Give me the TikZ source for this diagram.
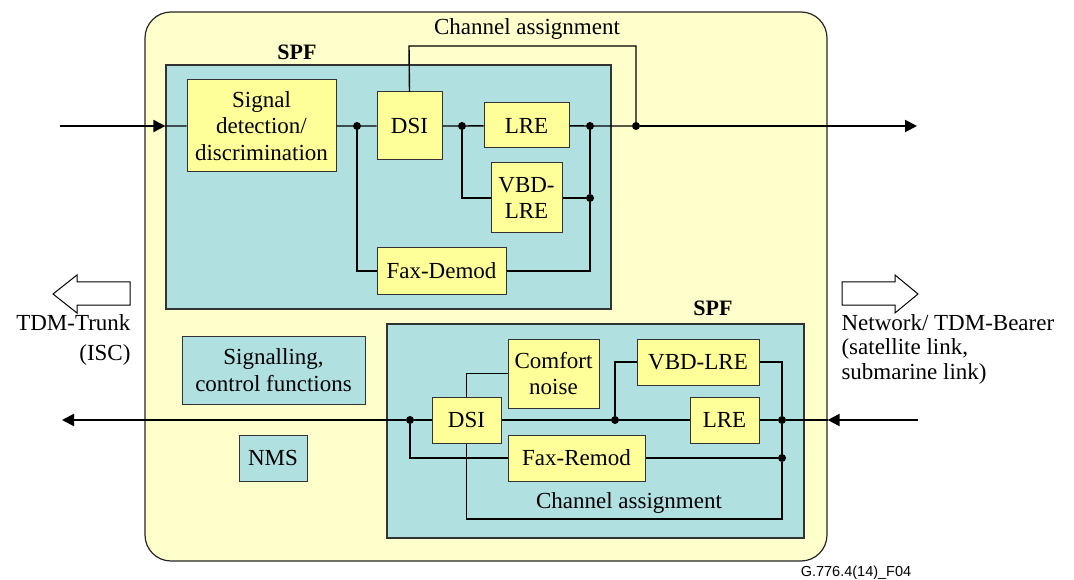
\documentclass[tikz,border=0pt]{standalone}
\usepackage{fontspec}
\setmainfont{Liberation Serif}
\setsansfont{Liberation Sans}
\usetikzlibrary{arrows.meta}
\definecolor{gwyellow}{HTML}{FFFFCC}
\definecolor{blkyellow}{HTML}{FFFF99}
\definecolor{spfteal}{HTML}{B0E0E0}
\tikzset{
  blk/.style={draw=black!80,fill=blkyellow,line width=1pt,inner sep=0pt,align=center},
  spf/.style={draw=black!80,fill=spfteal,line width=1.2pt,inner sep=0pt},
  ctl/.style={draw=black!80,fill=spfteal,line width=1pt,inner sep=0pt,align=center},
  wire/.style={line width=1.4pt},
  trunk/.style={line width=2pt,-{Triangle[length=12pt,width=12pt]}},
  hollow/.style={draw=black,fill=white,line width=1pt},
  jn/.style={circle,fill=black,inner sep=0pt,minimum size=8pt}
}
\begin{document}
\begin{tikzpicture}[x=1pt,y=-1pt,font=\rmfamily\fontsize{23}{26.5}\selectfont]
\useasboundingbox (0,0) rectangle (1074,580);
\node[draw=black!85,fill=gwyellow,line width=1.2pt,rounded corners=26pt,minimum width=682,minimum height=549] (gw) at (486,286.5) {};
% upper SPF
\node[spf,minimum width=445,minimum height=244] (spfA) at (388.5,187) {};
\node[font=\rmfamily\fontsize{22}{24}\bfseries\selectfont] at (297,52) {SPF};
\node[blk,minimum width=149,minimum height=92] (sig) at (261.5,126) {Signal\\detection/\\discrimination};
\node[blk,minimum width=65,minimum height=68] (dsiA) at (409.5,126) {DSI};
\node[blk,minimum width=85,minimum height=45] (lreA) at (526.5,125.5) {LRE};
\node[blk,minimum width=71,minimum height=70] (vbdA) at (526.5,198) {VBD-\\LRE};
\node[blk,minimum width=129,minimum height=46] (faxA) at (441.5,271) {Fax-Demod};
\node[jn] (j1) at (357,126) {};
\node[jn] (j2) at (462,126) {};
\node[jn] (j3) at (590,126) {};
\node[jn] (j4) at (590,198) {};
\node[jn] (j5) at (636,126) {};
\coordinate (inA) at (60,126);
\coordinate (outA) at (917,126);
\coordinate (caA) at (409,46);
\draw[wire] (spfA.west |- sig) -- (sig) -- (j1) -- (dsiA) -- (j2) -- (lreA) -- (j3) -- (j5);
\draw[wire] (j2) |- (vbdA) -- (j4) -- (j3);
\draw[wire] (j1) |- (faxA) -| (j4);
\draw[wire] (dsiA.north) -- (caA) -| (j5);
\draw[trunk] (inA) -- (spfA.west |- sig);
\draw[trunk] (j5) -- (outA);
\node at (527,29) {Channel assignment};
% lower SPF
\node[spf,minimum width=417,minimum height=214] (spfB) at (595.5,431) {};
\node[font=\rmfamily\fontsize{22}{24}\bfseries\selectfont] at (713,308) {SPF};
\node[blk,minimum width=69,minimum height=46] (dsiB) at (466.5,420) {DSI};
\node[blk,minimum width=91,minimum height=69] (cnB) at (553.5,373.5) {Comfort\\noise};
\node[blk,minimum width=122,minimum height=46] (vbdB) at (698,362) {VBD-LRE};
\node[blk,minimum width=69,minimum height=46] (lreB) at (724.5,420) {LRE};
\node[blk,minimum width=137,minimum height=46] (faxB) at (576.5,458) {Fax-Remod};
\node[jn] (k1) at (410,420) {};
\node[jn] (k2) at (615,420) {};
\node[jn] (k3) at (782,420) {};
\node[jn] (k4) at (782,458) {};
\coordinate (inB) at (918,420);
\coordinate (outB) at (62,420);
\coordinate (caB) at (782,519);
\draw[wire] (gw.east |- k3) -- (k3) -- (lreB) -- (k2) -- (dsiB) -- (k1);
\draw[wire] (k2) |- (vbdB) -| (k3);
\draw[wire] (k1) |- (faxB) -- (k4);
\draw[wire] (dsiB.north) |- (cnB);
\draw[wire] (dsiB.south) |- (caB) -- (k4) -- (k3);
\draw[trunk] (inB) -- (gw.east |- k3);
\draw[trunk] (k1) -- (outB);
\node at (629,503) {Channel assignment};
% control functions
\node[ctl,minimum width=183,minimum height=68] (sctl) at (273.5,370) {Signalling,\\control functions};
\node[ctl,minimum width=68,minimum height=46] (nms) at (273,458) {NMS};
% interfaces
\draw[hollow] (130,282) -- (77,282) -- (77,275) -- (53,294) -- (77,313) -- (77,305) -- (130,305) -- cycle;
\draw[hollow] (842,282) -- (895,282) -- (895,275) -- (918,294) -- (895,313) -- (895,305) -- (842,305) -- cycle;
\node[anchor=east,align=right,font=\rmfamily\fontsize{23}{30}\selectfont] (trk) at (134,340) {TDM-Trunk\\(ISC)};
\node[anchor=west,align=left,font=\rmfamily\fontsize{23}{24.5}\selectfont] (brr) at (838,349) {Network/ TDM-Bearer\\(satellite link,\\submarine link)};
\node[font=\sffamily\fontsize{14.5}{16}\selectfont] at (856,573) {G.776.4(14)\_F04};
\end{tikzpicture}
\end{document}
